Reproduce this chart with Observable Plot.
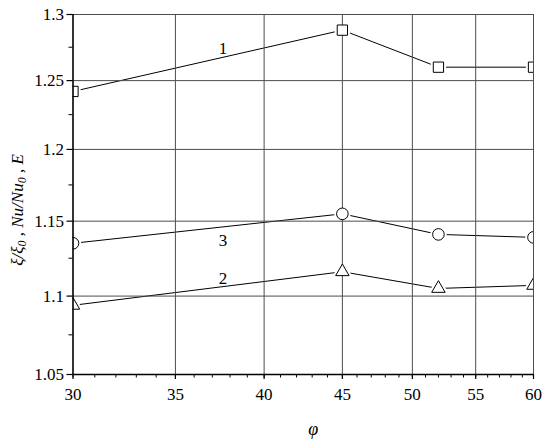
<!DOCTYPE html>
<html>
<head>
<meta charset="utf-8">
<script src="https://cdn.jsdelivr.net/npm/d3@7"></script>
<script src="https://cdn.jsdelivr.net/npm/@observablehq/plot@0.6"></script>
<style>
  html, body { margin: 0; padding: 0; background: #fff; }
</style>
</head>
<body>
<div id="chart"></div>
<script>
// Data
const phi = [30, 45, 52, 60];
const series1 = [1.242, 1.288, 1.260, 1.260]; // squares
const series2 = [1.094, 1.116, 1.105, 1.107]; // triangles
const series3 = [1.135, 1.155, 1.141, 1.139]; // circles
const seriesNames = ["1", "2", "3"];
const seriesSymbols = ["square", "triangle", "circle"];
const seriesLabelPos = [[37.6, 1.274], [37.6, 1.1115], [37.6, 1.1368]];
const xTicks = [30, 35, 40, 45, 50, 55, 60];
const xMinor = d3.range(30, 61, 1);
const yTicks = [1.05, 1.1, 1.15, 1.2, 1.25, 1.3];
const yMinor = [1.075, 1.125, 1.175, 1.225, 1.275];
const xLabel = "φ";

const allSeries = [series1, series2, series3];
const rows = [];
allSeries.forEach((vals, i) => {
  vals.forEach((v, j) => rows.push({series: seriesNames[i], symbol: seriesSymbols[i], x: phi[j], y: v}));
});
const labels = seriesNames.map((s, i) => ({text: s, x: seriesLabelPos[i][0], y: seriesLabelPos[i][1]}));

const gridColor = "#4d4d4d";
const font = "'Liberation Serif', 'Times New Roman', serif";

const chart = Plot.plot({
  width: 550,
  height: 448,
  marginLeft: 72.5,
  marginRight: 17,
  marginTop: 14,
  marginBottom: 74,
  style: {fontFamily: font, background: "white"},
  x: {type: "log", domain: [30, 60]},
  y: {type: "log", domain: [1.05, 1.3]},
  marks: [
    // series lines
    Plot.line(rows, {x: "x", y: "y", z: "series", stroke: "black", strokeWidth: 1}),
    // white halos producing small gaps between lines and markers
    Plot.dot(rows.filter(d => d.symbol !== "triangle"), {x: "x", y: "y", symbol: "symbol", r: 5.8, fill: "white", stroke: "white", strokeWidth: 5, clip: true}),
    Plot.dot(rows.filter(d => d.symbol === "triangle"), {x: "x", y: "y", symbol: "symbol", r: 5, fill: "white", stroke: "white", strokeWidth: 5, clip: true}),
    // grid
    Plot.gridY(yTicks.filter(v => v > 1.05), {stroke: gridColor, strokeOpacity: 1, strokeWidth: 1}),
    Plot.gridX(xTicks.filter(v => v > 30), {stroke: gridColor, strokeOpacity: 1, strokeWidth: 1}),
    // markers
    Plot.dot(rows.filter(d => d.symbol !== "triangle"), {x: "x", y: "y", symbol: "symbol", r: 5.8, fill: "white", stroke: "black", strokeWidth: 1, clip: true}),
    Plot.dot(rows.filter(d => d.symbol === "triangle"), {x: "x", y: "y", symbol: "symbol", r: 5, fill: "white", stroke: "black", strokeWidth: 1, clip: true}),
    // axes
    Plot.axisX({ticks: xMinor, tickSize: 3.5, tickFormat: () => "", label: null, stroke: "black", strokeWidth: 1}),
    Plot.axisX({ticks: xTicks, tickSize: 5, tickFormat: d => String(d), fontSize: 17, fontFamily: font, tickPadding: 8, fill: "black", stroke: "black", label: null, strokeWidth: 1.2}),
    Plot.axisY({ticks: yMinor, tickSize: 4, tickFormat: () => "", label: null, stroke: "black"}),
    Plot.axisY({ticks: yTicks, tickSize: 6, tickFormat: d => String(d), fontSize: 17, fontFamily: font, tickPadding: 3, fill: "black", stroke: "black", label: null, strokeWidth: 1.2}),
    Plot.ruleY([1.05], {stroke: "black", strokeWidth: 1.6}),
    Plot.ruleX([30], {stroke: "black", strokeWidth: 1.6}),
    // series labels
    Plot.text(labels, {x: "x", y: "y", text: "text", fontSize: 17, fill: "black", fontFamily: font}),
    // x label
    Plot.text([xLabel], {frameAnchor: "bottom", dy: 60, dx: 10, text: d => d, fontSize: 18, fontStyle: "italic", fill: "black", fontFamily: font})
  ]
});

// y-axis label with subscripts
const svg = d3.select(chart);
const t = svg.append("text")
  .attr("transform", "translate(23,210) rotate(-90)")
  .attr("text-anchor", "middle")
  .attr("font-family", font)
  .attr("font-style", "italic")
  .attr("font-size", 17)
  .attr("fill", "black");
t.append("tspan").text("ξ/ξ");
t.append("tspan").attr("font-size", 12).attr("dy", 3).text("0");
t.append("tspan").attr("dy", -3).text(" , Nu/Nu");
t.append("tspan").attr("font-size", 12).attr("dy", 3).text("0");
t.append("tspan").attr("dy", -3).text(" , E");

document.getElementById("chart").appendChild(chart);
</script>
</body>
</html>
